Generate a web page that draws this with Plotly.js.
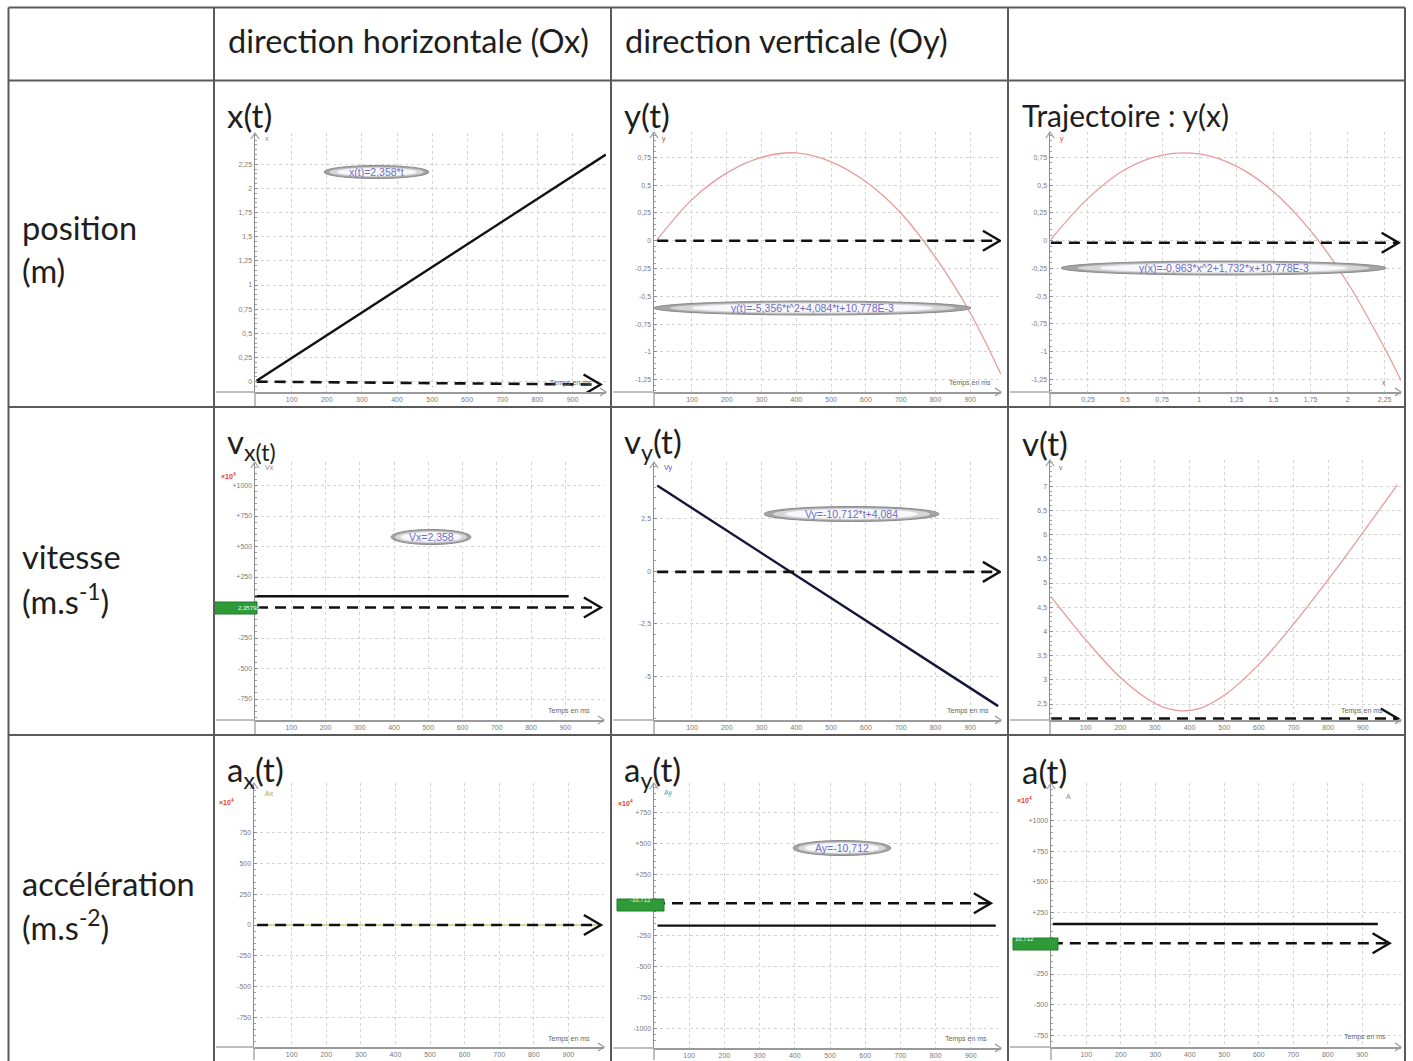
<!DOCTYPE html>
<html><head><meta charset="utf-8">
<script src="https://cdn.plot.ly/plotly-3.0.1.min.js"></script>
<style>html,body{margin:0;padding:0;background:#fff}#chart{width:1413px;height:1061px}</style>
</head><body><div id="chart"></div>
<script>
// ================= DATA =================
const timeTicks = [100,200,300,400,500,600,700,800,900];
const timeTickText = ['100','200','300','400','500','600','700','800','900'];
const xPosTicks = [0.25,0.5,0.75,1,1.25,1.5,1.75,2,2.25];
const xPosTickText = ['0,25','0,5','0,75','1','1,25','1,5','1,75','2','2,25'];

// x(t)
const xT = [0, 995];
const xPos = [0.01, 2.35];
const xTicks = [0,0.25,0.5,0.75,1,1.25,1.5,1.75,2,2.25];
const xTickText = ['0','0,25','0,5','0,75','1','1,25','1,5','1,75','2','2,25'];

// y(t)
const yT = [0,100,200,300,400,500,600,700,800,900,988];
const yPos = [0.01,0.37,0.61,0.75,0.79,0.71,0.53,0.25,-0.15,-0.65,-1.2];
const yTicks = [-1.25,-1,-0.75,-0.5,-0.25,0,0.25,0.5,0.75];
const yTickText = ['-1,25','-1','-0,75','-0,5','-0,25','0','0,25','0,5','0,75'];

// trajectory y(x)
const trajX = [0,0.25,0.5,0.75,1,1.25,1.5,1.75,2,2.25,2.36];
const trajY = [0.01,0.38,0.64,0.77,0.78,0.67,0.44,0.09,-0.38,-0.97,-1.26];

// vx(t)
const vxT = [-6, 910];
const vxLine = [92, 92];
const vxTicks = [-750,-500,-250,250,500,750,1000];
const vxTickText = ['-750','-500','-250','+250','+500','+750','+1000'];

// vy(t)
const vyT = [0, 980];
const vyVals = [4.08, -6.42];
const vyTicks = [-5,-2.5,0,2.5];
const vyTickText = ['-5','-2,5','0','2,5'];

// v(t)
const vT = [0,100,200,300,340,380,430,500,600,700,800,900,1000];
const vMag = [4.72,3.83,3.05,2.51,2.40,2.36,2.41,2.68,3.32,4.15,5.07,6.04,7.03];
const vTicks = [2.5,3,3.5,4,4.5,5,5.5,6,6.5,7];
const vTickText = ['2,5','3','3,5','4','4,5','5','5,5','6','6,5','7'];

// ax(t)
const axT = [0, 990];
const axVals = [0, 0];
const axTicks = [-750,-500,-250,0,250,500,750];
const axTickText = ['-750','-500','-250','0','250','500','750'];

// ay(t)
const ayT = [10, 971];
const ayLine = [-167, -167];
const ayTicks = [-1000,-750,-500,-250,250,500,750];
const ayTickText = ['-1000','-750','-500','-250','+250','+500','+750'];

// a(t)
const aT = [3, 945];
const aLine = [157, 157];
const aTicks = [-750,-500,-250,250,500,750,1000];
const aTickText = ['-750','-500','-250','+250','+500','+750','+1000'];

// dashed direction arrows (start/end x, level)
const dash1X = [0, 980],  dash1Y = [0, -0.03];
const dash2X = [0, 985],  dash2Y = [0, 0];
const dash3X = [0, 2.344], dash3Y = [-0.02, -0.02];
const dash4X = [0, 1004], dash4Y = [0, 0];
const dash5X = [0, 985],  dash5Y = [-0.03, -0.03];
const dash6X = [0, 1001], dash6Y = [2.2, 2.2];
const dash7X = [0, 994],  dash7Y = [0, 0];
const dash8X = [0, 957],  dash8Y = [14, 14];
const dash9X = [0, 979],  dash9Y = [0, 0];

// ================= LAYOUT HELPERS =================
const W = 1413, H = 1061;
const fx = p => p / W;
const fy = p => 1 - p / H;
const sfx = i => (i === 1 ? '' : String(i));

// plot boxes [left, top, right, bottom] px, ranges, ticks
const cells = [
  {box:[255,133,606,392], xr:[-4.6,995.4], yr:[-0.107,2.573], xt:timeTicks, xtt:timeTickText, yt:xTicks, ytt:xTickText, minor:0.05, cellL:214, cellB:407},
  {box:[654,132,1001,392], xr:[-9.2,988.2], yr:[-1.36,0.978], xt:timeTicks, xtt:timeTickText, yt:yTicks, ytt:yTickText, minor:0.05, cellL:611, cellB:407},
  {box:[1050,132,1401,392], xr:[-0.006,2.36], yr:[-1.364,0.978], xt:xPosTicks, xtt:xPosTickText, yt:yTicks, ytt:yTickText, minor:0.05, cellL:1008, cellB:407},
  {box:[255,462,604,720], xr:[-5.8,1013.1], yr:[-922,1193], xt:timeTicks, xtt:timeTickText, yt:vxTicks, ytt:vxTickText, minor:50, cellL:214, cellB:735},
  {box:[654,462,1001,720], xr:[-9.2,988.2], yr:[-7.08,5.2], xt:timeTicks, xtt:timeTickText, yt:vyTicks, ytt:vyTickText, minor:0.5, cellL:611, cellB:735},
  {box:[1050,460,1401,720], xr:[-2.9,1010.4], yr:[2.17,7.542], xt:timeTicks, xtt:timeTickText, yt:vTicks, ytt:vTickText, minor:0.1, cellL:1008, cellB:735},
  {box:[254,783,604,1047], xr:[-9,1003], yr:[-994,1157], xt:timeTicks, xtt:timeTickText, yt:axTicks, ytt:axTickText, minor:50, cellL:214, cellB:1061},
  {box:[654,783,1001,1048], xr:[0,985.8], yr:[-1157,987], xt:timeTicks, xtt:timeTickText, yt:ayTicks, ytt:ayTickText, minor:50, cellL:611, cellB:1061},
  {box:[1051,783,1401,1047], xr:[-2.3,1012.2], yr:[-844,1305], xt:timeTicks, xtt:timeTickText, yt:aTicks, ytt:aTickText, minor:50, cellL:1008, cellB:1061}
];

const layout = {
  width: W, height: H,
  margin: {l:0, r:0, t:0, b:0},
  paper_bgcolor: '#ffffff', plot_bgcolor: '#ffffff',
  showlegend: false,
  font: {family: 'Lato, "Open Sans", sans-serif', color: '#222'},
  shapes: [], annotations: []
};

const tickFont = {family: '"Liberation Sans", Arial, sans-serif', size: 7, color: '#7a7a7a'};

cells.forEach((c, k) => {
  const i = k + 1, s = sfx(i);
  const [L, T, R, B] = c.box;
  layout['xaxis' + s] = {
    domain: [fx(L), fx(R)], range: c.xr, anchor: 'y' + s,
    showline: true, linecolor: '#9a9a9a', linewidth: 1.5,
    tickmode: 'array', tickvals: c.xt, ticktext: c.xtt, tickfont: tickFont, ticks: '',
    showgrid: true, gridcolor: '#d4d4d4', griddash: 'dot', gridwidth: 1,
    zeroline: false, fixedrange: true
  };
  layout['yaxis' + s] = {
    domain: [fy(B), fy(T)], range: c.yr, anchor: 'x' + s,
    showline: true, linecolor: '#8c8c8c', linewidth: 1.5,
    tickmode: 'array', tickvals: c.yt, ticktext: c.ytt, tickfont: tickFont,
    ticks: 'inside', ticklen: 3, tickcolor: '#8c8c8c',
    minor: {tickmode: 'linear', tick0: 0, dtick: c.minor, ticks: 'inside', ticklen: 2, tickcolor: '#a0a0a0', showgrid: false},
    showgrid: true, gridcolor: '#d4d4d4', griddash: 'dot', gridwidth: 1,
    zeroline: false, fixedrange: true
  };
  // axis extensions to cell borders
  layout.shapes.push({type:'line', xref:'paper', yref:'paper', x0:fx(c.cellL+2), x1:fx(L), y0:fy(B), y1:fy(B), line:{color:'#a8a8a8', width:1.5}});
  layout.shapes.push({type:'line', xref:'paper', yref:'paper', x0:fx(L), x1:fx(L), y0:fy(B), y1:fy(c.cellB-1), line:{color:'#a8a8a8', width:1.5}});
  // axis arrowheads
  layout.shapes.push({type:'path', xref:'x'+s+' domain', yref:'y'+s+' domain', xsizemode:'pixel', ysizemode:'pixel', xanchor:1, yanchor:0, path:'M-6,4 L0,0 L-6,-4', line:{color:'#9a9a9a', width:1.2}});
  layout.shapes.push({type:'path', xref:'x'+s+' domain', yref:'y'+s+' domain', xsizemode:'pixel', ysizemode:'pixel', xanchor:0, yanchor:1, path:'M-4,-6 L0,0 L4,-6', line:{color:'#9a9a9a', width:1.2}});
});

// ================= TRACES =================
const pink = '#e99a9a';
const traces = [];
function lineTrace(x, y, i, color, width, dash, shape) {
  const s = sfx(i);
  traces.push({x: x, y: y, xaxis: 'x' + s, yaxis: 'y' + s, mode: 'lines', hoverinfo: 'skip',
    line: {color: color, width: width, dash: dash || 'solid', shape: shape || 'linear', smoothing: 1}});
}
lineTrace(axT, axVals, 7, '#d9d79a', 2);
lineTrace(xT, xPos, 1, '#111111', 2.4);
lineTrace(yT, yPos, 2, pink, 1.3, null, 'spline');
lineTrace(trajX, trajY, 3, pink, 1.3, null, 'spline');
lineTrace(vxT, vxLine, 4, '#111111', 2.4);
lineTrace(vyT, vyVals, 5, '#16163a', 2.4);
lineTrace(vT, vMag, 6, pink, 1.3, null, 'spline');
lineTrace(ayT, ayLine, 8, '#111111', 2.4);
lineTrace(aT, aLine, 9, '#111111', 2.4);

const dashes = [[dash1X,dash1Y],[dash2X,dash2Y],[dash3X,dash3Y],[dash4X,dash4Y],[dash5X,dash5Y],[dash6X,dash6Y],[dash7X,dash7Y],[dash8X,dash8Y],[dash9X,dash9Y]];
dashes.forEach((d, k) => {
  const i = k + 1, s = sfx(i);
  lineTrace(d[0], d[1], i, '#111111', 2.6, '11px,7px');
  layout.shapes.push({type:'path', xref:'x'+s, yref:'y'+s, xsizemode:'pixel', ysizemode:'pixel',
    xanchor: d[0][1], yanchor: d[1][1], path:'M-17,10 L0,0 L-17,-10', line:{color:'#111', width:2.4}, layer:'above'});
});

// ================= DECORATIONS =================
// equation ellipses [x0, x1, yc, h, text]
const ellipses = [
  [324, 429, 172, 13, 'x(t)=2,358*t'],
  [654, 971, 308, 14, 'y(t)=-5,356*t^2+4,084*t+10,778E-3'],
  [1061, 1386, 268, 14, 'y(x)=-0,963*x^2+1,732*x+10,778E-3'],
  [391, 471, 537, 15, 'Vx=2,358'],
  [764, 939, 514, 15, 'Vy=-10,712*t+4,084'],
  [793, 891, 848, 15, 'Ay=-10,712']
];
ellipses.forEach(e => {
  const [x0, x1, yc, h, txt] = e;
  const w = x1 - x0;
  layout.shapes.push({type:'circle', xref:'paper', yref:'paper', x0:fx(x0), x1:fx(x1), y0:fy(yc+h/2), y1:fy(yc-h/2), fillcolor:'#a4a4a4', line:{color:'#8c8c8c', width:1}, layer:'above'});
  layout.shapes.push({type:'circle', xref:'paper', yref:'paper', x0:fx(x0+w*0.05), x1:fx(x1-w*0.05), y0:fy(yc+h/2-1.5), y1:fy(yc-h/2+1.5), fillcolor:'#d6d6d8', line:{width:0}, layer:'above'});
  layout.shapes.push({type:'circle', xref:'paper', yref:'paper', x0:fx(x0+w*0.12), x1:fx(x1-w*0.12), y0:fy(yc+h/2-2.5), y1:fy(yc-h/2+2.5), fillcolor:'#f8f8fa', line:{width:0}, layer:'above'});
  layout.annotations.push({xref:'paper', yref:'paper', x:fx((x0+x1)/2), y:fy(yc), text:txt, showarrow:false, xanchor:'center', yanchor:'middle',
    font:{family:'"Liberation Sans", Arial, sans-serif', size:10.5, color:'#6e6ec4'}});
});

// green value boxes [x0, x1, yc, text]
const greens = [[214, 257, 608, '2,35798'], [617, 664, 905, '-10,712'], [1013, 1058, 944, '10,712']];
greens.forEach(g => {
  layout.shapes.push({type:'rect', xref:'paper', yref:'paper', x0:fx(g[0]), x1:fx(g[1]), y0:fy(g[2]+6), y1:fy(g[2]-6), fillcolor:'#2f9a38', line:{color:'#1f7a28', width:1}, layer:'above'});
  layout.annotations.push({xref:'paper', yref:'paper', x:fx((g[0]+g[1])/2), y:fy(g[2]), text:g[3], showarrow:false, font:{family:'"Liberation Sans", Arial', size:6, color:'#e8ffe8'}});
});

// table borders
const tableX = [8.5, 214, 611, 1008, 1405];
const tableY = [7.5, 80.5, 407, 735, 1061];
tableX.forEach(x => layout.shapes.push({type:'line', xref:'paper', yref:'paper', x0:fx(x), x1:fx(x), y0:fy(tableY[0]), y1:fy(tableY[4]), line:{color:'#5a5a5a', width:2}, layer:'above'}));
tableY.slice(0,4).forEach(y => layout.shapes.push({type:'line', xref:'paper', yref:'paper', x0:fx(tableX[0]), x1:fx(tableX[4]), y0:fy(y), y1:fy(y), line:{color:'#5a5a5a', width:2}, layer:'above'}));

// text labels [x, y, text, size]
const headFont = 32.5, titleFont = 33;
const texts = [
  [226, 40, 'direction horizontale (Ox)', headFont],
  [623, 40, 'direction verticale (Oy)', headFont],
  [20, 228, 'position', headFont],
  [20, 270, '(m)', headFont],
  [20, 556, 'vitesse', headFont],
  [20, 599, '(m.s<sup>-1</sup>)', headFont],
  [20, 883, 'accélération', headFont],
  [20, 925, '(m.s<sup>-2</sup>)', headFont],
  [225, 115, 'x(t)', titleFont],
  [622, 115, 'y(t)', titleFont],
  [1020, 115, 'Trajectoire : y(x)', 30],
  [225, 443, 'v<sub>x(t)</sub>', titleFont],
  [622, 443, 'v<sub>y</sub>(t)', titleFont],
  [1020, 443, 'v(t)', titleFont],
  [225, 771, 'a<sub>x</sub>(t)', titleFont],
  [622, 771, 'a<sub>y</sub>(t)', titleFont],
  [1020, 771, 'a(t)', titleFont]
];
texts.forEach(t => layout.annotations.push({xref:'paper', yref:'paper', x:fx(t[0]), y:fy(t[1]), text:t[2], showarrow:false, xanchor:'left', yanchor:'middle',
  font:{family:'Lato, "Open Sans", sans-serif', size:t[3], color:'#1e1e1e'}}));

// small axis texts [x, y, text, color, anchor]
const smallTexts = [
  [594, 383, 'Temps en ms', '#666', 'right'], [993, 383, 'Temps en ms', '#666', 'right'], [1388, 382, 'x', '#666', 'right'],
  [592, 711, 'Temps en ms', '#666', 'right'], [991, 711, 'Temps en ms', '#666', 'right'], [1385, 711, 'Temps en ms', '#666', 'right'],
  [592, 1039, 'Temps en ms', '#666', 'right'], [989, 1039, 'Temps en ms', '#666', 'right'], [1388, 1037, 'Temps en ms', '#666', 'right'],
  [263, 138, 'x', '#888', 'left'], [660, 139, 'y', '#d04040', 'left'], [1058, 139, 'y', '#d04040', 'left'],
  [263, 467, 'Vx', '#888', 'left'], [662, 468, 'Vy', '#5050d0', 'left'], [1057, 467, 'v', '#d04040', 'left'],
  [263, 793, 'Ax', '#b0a840', 'left'], [662, 793, 'Ay', '#40a0a0', 'left'], [1064, 796, 'A', '#888', 'left']
];
smallTexts.forEach(t => layout.annotations.push({xref:'paper', yref:'paper', x:fx(t[0]), y:fy(t[1]), text:t[2], showarrow:false, xanchor:t[4], yanchor:'middle',
  font:{family:'"Liberation Sans", Arial, sans-serif', size:7, color:t[3]}}));

// multiplier labels
[[219, 476], [616, 803], [1015, 800], [217, 802]].forEach(p => layout.annotations.push({xref:'paper', yref:'paper', x:fx(p[0]), y:fy(p[1]), text:'<b>×10<sup>4</sup></b>', showarrow:false, xanchor:'left', yanchor:'middle',
  font:{family:'"Liberation Sans", Arial, sans-serif', size:7, color:'#e03a3a'}}));

Plotly.newPlot('chart', traces, layout, {staticPlot: true, displayModeBar: false});
</script>
</body></html>
